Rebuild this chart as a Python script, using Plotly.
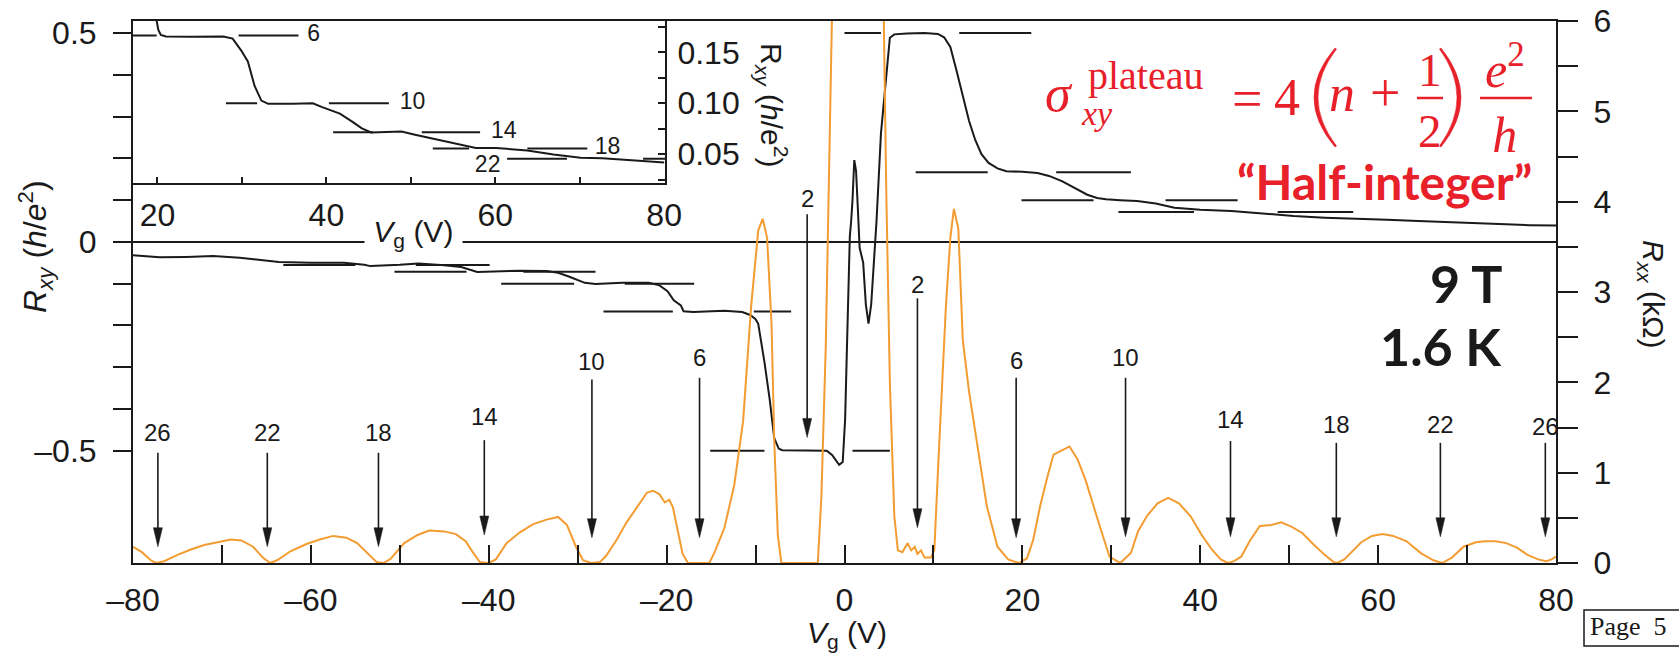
import plotly.graph_objects as go

# ---------------- data ----------------
# Longitudinal resistance R_xx (kOhm) vs gate voltage Vg (V)
VG_RXX = [-80, -79, -78, -77.4, -76.5, -75, -73.5, -72, -70.5, -69, -67.8, -66.5, -65.4, -64.6, -63.8,
          -62.3, -60.5, -59, -57.5, -56, -54.8, -53.6, -52.6, -51.8, -51, -49.5, -48, -46.7, -45,
          -43.7, -42.6, -41.8, -41, -40, -39.2, -38, -36.5, -35, -33.5, -32.2, -31.2, -30.2, -29.4,
          -28.5, -27.5, -26.8, -25.6, -24.5, -23.3, -22.2, -21.5, -20.8, -20.2, -19.7, -19.3, -18.8,
          -18.2, -17.6, -15.2, -14.6, -13.5, -12.4, -11.4, -10.5, -9.7, -9.2, -8.7, -8.2, -7.9, -7.5,
          -7.1, -3.0, -2.6, -2.1, -1.7, -1.4, -1.0, 0, 2, 3.5, 4.3, 4.7, 5.1, 5.6, 6.0, 6.5, 7.1, 7.5,
          7.9, 8.2, 8.6, 9.0, 9.7, 10.1, 10.5, 11.0, 11.4, 11.9, 12.3, 12.8, 13.3, 14.0, 14.8, 16.0,
          17.2, 18.4, 19.6, 20.5, 21.2, 22.0, 22.8, 23.5, 24.5, 25.3, 26.2, 27.1, 28.6, 29.8, 31.0,
          32.2, 33.0, 34.0, 35.2, 36.4, 37.6, 38.9, 40.1, 41.3, 42.3, 43.1, 43.8, 44.6, 45.6, 46.7,
          48.0, 49.1, 50.3, 51.5, 52.8, 54.0, 55.0, 55.4, 56.2, 56.9, 58.1, 59.3, 60.5, 61.7, 63.2,
          64.8, 66.2, 67.2, 68.3, 69.6, 71.0, 72.0, 73.2, 74.4, 75.6, 76.8, 78.0, 78.9, 79.5, 80]
RXX_KOHM = [0.18, 0.12, 0.03, 0.0, 0.02, 0.09, 0.15, 0.20, 0.23, 0.26, 0.25, 0.18, 0.06, 0.0, 0.03,
            0.13, 0.21, 0.26, 0.30, 0.28, 0.22, 0.10, 0.01, 0.0, 0.05, 0.22, 0.31, 0.36, 0.35,
            0.32, 0.24, 0.12, 0.01, 0.0, 0.04, 0.22, 0.34, 0.43, 0.48, 0.51, 0.42, 0.18, 0.03,
            0.0, 0.01, 0.08, 0.26, 0.45, 0.62, 0.78, 0.80, 0.76, 0.67, 0.70, 0.62, 0.40,
            0.10, 0.0, 0.0, 0.12, 0.39, 0.86, 1.57, 2.84, 3.68, 3.81, 3.60, 2.63, 1.36, 0.31,
            0.0, 0.0, 0.73, 2.42, 4.5, 6.1, 7.5, 9.0, 9.0, 8.0, 6.8, 4.1, 2.0, 0.52, 0.14, 0.12, 0.22, 0.14,
            0.18, 0.10, 0.14, 0.06, 0.06, 0.14, 1.0, 2.0, 2.84, 3.6, 3.92, 3.7, 2.47, 1.9, 1.37, 0.63,
            0.18, 0.04, 0.0, 0.05, 0.25, 0.63, 0.95, 1.20, 1.25, 1.29, 1.15, 0.92, 0.44, 0.07, 0.0,
            0.11, 0.35, 0.52, 0.66, 0.72, 0.66, 0.52, 0.32, 0.15, 0.04, 0.0, 0.02, 0.07, 0.25, 0.41,
            0.42, 0.45, 0.40, 0.33, 0.20, 0.09, 0.01, 0.0, 0.04, 0.11, 0.23, 0.30, 0.32, 0.30, 0.24,
            0.11, 0.03, 0.0, 0.06, 0.18, 0.23, 0.24, 0.24, 0.22, 0.17, 0.09, 0.04, 0.02, 0.04, 0.07]

# Hall resistance R_xy (h/e^2) vs gate voltage Vg (V)
VG_RXY = [-80, -77, -74, -71, -68, -66, -63.6, -60, -56.3, -54, -53.3, -50, -47.9, -45, -43.1, -41.3,
          -39, -36.5, -33.5, -32.2, -31, -30.4, -29.2, -28, -25, -22, -20.8, -19.9, -19.2, -18.4, -18.1,
          -17, -15.5, -13.5, -11.5, -10.6, -10, -9.7, -9.0, -8.4, -7.9, -7.4, -7.0, -4, -2, -1.4, -0.94,
          -0.6, -0.2, 0.07, 0.4, 0.6, 0.75, 0.9, 1.1, 1.3, 1.5, 1.7, 2.1, 2.4, 2.7, 3.0, 3.3, 3.6, 4.1,
          4.7, 5.1, 5.6, 7, 9, 10.5, 11.2, 11.9, 12.6, 13.3, 14.0, 14.7, 15.4, 16.2, 17.2, 18.2, 20,
          21.7, 23, 24.5, 26, 27.3, 28.4, 29.4, 31, 32.9, 35, 37.1, 40, 43.5, 47, 50.5, 54, 57.5, 61,
          64.5, 68, 73, 77, 80]
RXY_H_E2 = [-0.032, -0.037, -0.036, -0.034, -0.038, -0.042, -0.048, -0.050, -0.050, -0.055, -0.058,
            -0.055, -0.052, -0.056, -0.060, -0.072, -0.071, -0.069, -0.070, -0.074, -0.083, -0.088,
            -0.098, -0.101, -0.098, -0.098, -0.104, -0.118, -0.140, -0.152, -0.166, -0.168, -0.167,
            -0.165, -0.168, -0.175, -0.185, -0.196, -0.288, -0.379, -0.47, -0.495, -0.499, -0.499,
            -0.500, -0.510, -0.525, -0.534, -0.527, -0.425, -0.15, 0.014, 0.05, 0.10, 0.196, 0.17,
            0.08, -0.014, -0.05, -0.15, -0.196, -0.15, -0.05, 0.05, 0.26, 0.397, 0.489, 0.497, 0.499,
            0.500, 0.498, 0.49, 0.467, 0.41, 0.348, 0.29, 0.244, 0.21, 0.189, 0.176, 0.169, 0.168,
            0.165, 0.158, 0.145, 0.127, 0.113, 0.105, 0.102, 0.100, 0.098, 0.092, 0.082, 0.077,
            0.074, 0.068, 0.062, 0.058, 0.056, 0.053, 0.050, 0.047, 0.042, 0.040, 0.039]

# Quantised plateau guides R_xy = 1/nu (h/e^2), each drawn as two short segments
PLATEAU_NU = [-18, -18, -14, -14, -10, -10, -6, -6, -2, -2, 2, 2, 6, 6, 10, 10, 14, 14]
PLATEAU_V_START = [-63.1, -48.2, -50.6, -36.1, -38.6, -24.7, -27.1, -10.2, -15.1, 0.9,
                   0.0, 12.9, 8.0, 23.8, 19.9, 36.1, 30.8, 48.7]
PLATEAU_V_END = [-55.0, -39.9, -42.5, -28.0, -30.4, -16.9, -19.3, -6.0, -9.0, 5.1,
                 4.1, 21.0, 16.1, 32.2, 28.0, 44.2, 39.3, 57.2]

# Inset: R_xy (h/e^2) for Vg = 20..80 V
INSET_VG = [19.7, 19.9, 20.1, 20.4, 21, 24, 27.8, 28.9, 29.9, 30.7, 31.5, 32.3, 33.1, 36, 38.4, 39.5,
            40.5, 41.6, 43.1, 44.2, 45.3, 47, 48.9, 50.5, 53.2, 55.8, 57.7, 60.1, 63.8, 66.9, 70.1,
            72.7, 76.4, 80]
INSET_RXY = [0.19, 0.182, 0.172, 0.167, 0.1655, 0.1652, 0.1655, 0.1635, 0.152, 0.141, 0.117, 0.1026,
             0.0994, 0.0995, 0.100, 0.0962, 0.093, 0.0898, 0.0817, 0.0753, 0.0712, 0.0718, 0.0721,
             0.069, 0.064, 0.059, 0.0561, 0.056, 0.0535, 0.0497, 0.0465, 0.046, 0.044, 0.0417]
INSET_PLATEAU_NU = [6, 6, 10, 10, 14, 14, 18, 18, 22, 22]
INSET_PLATEAU_V_START = [17.1, 29.6, 28.1, 40.3, 40.8, 51.3, 52.6, 63.8, 61.4, 77.5]
INSET_PLATEAU_V_END = [19.9, 36.7, 31.8, 47.4, 45.5, 58.2, 56.9, 70.9, 68.5, 80.1]
INSET_LABELS = ["6", "10", "14", "18", "22"]
INSET_LABEL_V = [38.5, 50.2, 61.0, 73.3, 59.1]
INSET_LABEL_R = [1 / 6, 0.1, 1 / 14, 1 / 18, 0.0385]

# Filling-factor arrows: label, Vg, label height / arrow top / arrow tip (in R_xx kOhm units)
ARROW_NU = ["26", "22", "18", "14", "10", "6", "2", "2", "6", "10", "14", "18", "22", "26"]
ARROW_VG = [-77.2, -64.9, -52.4, -40.5, -28.4, -16.3, -4.2, 8.2, 19.3, 31.6, 43.4, 55.3, 67.0, 78.8]
ARROW_LABEL_Y = [1.44, 1.44, 1.44, 1.62, 2.23, 2.27, 4.03, 3.08, 2.24, 2.27, 1.59, 1.53, 1.53, 1.51]
ARROW_TOP = [1.22, 1.22, 1.22, 1.36, 2.03, 2.05, 3.86, 2.93, 2.05, 2.05, 1.35, 1.33, 1.33, 1.33]
ARROW_TIP = [0.18, 0.18, 0.18, 0.31, 0.28, 0.28, 1.39, 0.39, 0.28, 0.29, 0.29, 0.29, 0.29, 0.29]

# ---------------- layout constants ----------------
W, H = 1679, 655
ML, MR, MT, MB = 133, 123, 21, 92
PW, PH = W - ML - MR, H - MT - MB
X_RANGE = [-80, 80]
Y_RANGE = [-0.769, 0.529]
Y2_RANGE = [0, 6]
INSET_X_RANGE = [17.1, 80.1]
INSET_Y_RANGE = [0.0213, 0.1808]

INK = "#1a1a1a"
ORANGE = "#F39C32"
RED = "#E8202A"
SANS = "Liberation Sans, Arial, Helvetica, sans-serif"
SERIF = "Liberation Serif, Times New Roman, serif"
BOLD = "Lato, Liberation Sans, sans-serif"


def paper(x, y):
    return (x - ML) / PW, (H - MB - y) / PH


def dash(v, fmt):
    s = fmt.format(abs(v))
    return ("\u2013" + s) if v < 0 else s


fig = go.Figure()

# R_xx (orange, right axis)
fig.add_trace(go.Scatter(x=VG_RXX, y=RXX_KOHM, mode="lines", yaxis="y2", xaxis="x",
                         line=dict(color=ORANGE, width=2), hoverinfo="skip", showlegend=False))

# plateau guides
px_, py_ = [], []
for nu, a, b in zip(PLATEAU_NU, PLATEAU_V_START, PLATEAU_V_END):
    px_ += [a, b, None]
    py_ += [1 / nu, 1 / nu, None]
fig.add_trace(go.Scatter(x=px_, y=py_, mode="lines", xaxis="x", yaxis="y",
                         line=dict(color=INK, width=2), hoverinfo="skip", showlegend=False))

# R_xy (black, left axis)
fig.add_trace(go.Scatter(x=VG_RXY, y=RXY_H_E2, mode="lines", xaxis="x", yaxis="y",
                         line=dict(color=INK, width=2), hoverinfo="skip", showlegend=False))

# inset
ix, iy = [], []
for nu, a, b in zip(INSET_PLATEAU_NU, INSET_PLATEAU_V_START, INSET_PLATEAU_V_END):
    ix += [a, b, None]
    iy += [1 / nu, 1 / nu, None]
fig.add_trace(go.Scatter(x=ix, y=iy, mode="lines", xaxis="x3", yaxis="y3",
                         line=dict(color=INK, width=2), hoverinfo="skip", showlegend=False))
fig.add_trace(go.Scatter(x=INSET_VG, y=INSET_RXY, mode="lines", xaxis="x3", yaxis="y3",
                         line=dict(color=INK, width=2), hoverinfo="skip", showlegend=False))
fig.add_trace(go.Scatter(x=INSET_LABEL_V, y=INSET_LABEL_R, mode="text", text=INSET_LABELS,
                         xaxis="x3", yaxis="y3", textfont=dict(family=SANS, size=23, color=INK),
                         hoverinfo="skip", showlegend=False))

axis_common = dict(showgrid=False, showline=True, linewidth=2, linecolor=INK,
                   tickcolor=INK, tickwidth=2, tickfont=dict(family=SANS, size=32, color=INK),
                   tickmode="array")

xt = list(range(-80, 81, 10))
yt = [round(-0.5 + 0.1 * i, 1) for i in range(11)]
y2t = [0.5 * i for i in range(13)]
x3t = list(range(20, 81, 10))
y3t = [0.025 * i for i in range(1, 8)]

fig.update_layout(
    width=W, height=H, margin=dict(l=ML, r=MR, t=MT, b=MB, pad=0, autoexpand=False),
    paper_bgcolor="white", plot_bgcolor="white", showlegend=False,
    xaxis=dict(axis_common, domain=[0, 1], range=X_RANGE, anchor="y", ticks="inside", ticklen=18,
               tickvals=xt, ticktext=[dash(v, "{:d}") if v % 20 == 0 else "" for v in xt],
               mirror=True, zeroline=False, ticklabelstandoff=8),
    yaxis=dict(axis_common, domain=[0, 1], range=Y_RANGE, anchor="x", ticks="outside", ticklen=18,
               tickvals=yt,
               ticktext=[dash(v, "{:g}") if abs(v) in (0.5, 0.0) else "" for v in yt],
               zeroline=True, zerolinecolor=INK, zerolinewidth=1.5, ticklabelstandoff=10),
    yaxis2=dict(axis_common, range=Y2_RANGE, overlaying="y", side="right", anchor="x",
                ticks="outside", ticklen=20, tickvals=y2t,
                ticktext=[str(int(v)) if v == int(v) else "" for v in y2t],
                zeroline=False, ticklabelstandoff=9),
    xaxis3=dict(axis_common, domain=[0, (665 - ML) / PW], range=INSET_X_RANGE, anchor="y3",
                ticks="inside", ticklen=6, tickvals=x3t,
                ticktext=[str(v) if v % 20 == 0 else "" for v in x3t],
                zeroline=False, ticklabelstandoff=2),
    yaxis3=dict(axis_common, domain=[(H - MB - 183.3) / PH, 1], range=INSET_Y_RANGE, anchor="x3",
                side="right", ticks="inside", ticklen=7, tickvals=y3t,
                ticktext=["", "0.05", "", "0.10", "", "0.15", ""],
                zeroline=False, ticklabelstandoff=4),
)

# arrows: shaft + long narrow head, in data units of (x, y2)
PX_PER_V = PW / (X_RANGE[1] - X_RANGE[0])
PX_PER_K = PH / (Y2_RANGE[1] - Y2_RANGE[0])
HEAD_HALF_W = 4.5 / PX_PER_V
HEAD_LEN = 19 / PX_PER_K
for lab, v, ly, top, tip in zip(ARROW_NU, ARROW_VG, ARROW_LABEL_Y, ARROW_TOP, ARROW_TIP):
    fig.add_shape(type="line", xref="x", yref="y2", x0=v, x1=v, y0=top, y1=tip + HEAD_LEN * 0.8,
                  line=dict(color=INK, width=1.6))
    fig.add_shape(type="path", xref="x", yref="y2",
                  path=f"M {v - HEAD_HALF_W} {tip + HEAD_LEN} L {v + HEAD_HALF_W} {tip + HEAD_LEN} L {v} {tip} Z",
                  fillcolor=INK, line=dict(color=INK, width=0.5))
    fig.add_annotation(x=v, y=ly, xref="x", yref="y2", text=lab, showarrow=False,
                       font=dict(family=SANS, size=24, color=INK), xanchor="center", yanchor="middle")


def text_at(x, y, text, size, family=SANS, color=INK, xanchor="center", angle=0, bg=None, weight=None):
    a, b = paper(x, y)
    f = dict(family=family, size=size, color=color)
    if weight:
        f["weight"] = weight
    kw = dict(x=a, y=b, xref="paper", yref="paper", text=text, showarrow=False, font=f,
              xanchor=xanchor, yanchor="middle", textangle=angle, borderpad=0, align="center")
    if bg:
        kw["bgcolor"] = bg
    fig.add_annotation(**kw)


def paper_path(points, close=False):
    out = []
    for cmd, pts in points:
        coords = " ".join(f"{paper(x, y)[0]:.5f},{paper(x, y)[1]:.5f}" for x, y in pts)
        out.append(f"{cmd} {coords}")
    return " ".join(out) + (" Z" if close else "")


# axis titles
text_at(35, 247, "<i>R</i><sub><i>xy</i></sub> (<i>h</i>/<i>e</i><sup>2</sup>)", 32, angle=-90)
text_at(1652, 294, "<i>R</i><sub><i>xx</i></sub> (k\u03a9)", 30, angle=90)
text_at(772, 105, "R<sub><i>xy</i></sub> (<i>h</i>/e<sup>2</sup>)", 30, angle=90)
text_at(847, 634, "<i>V</i><sub>g</sub> (V)", 30)
text_at(413, 233, " <i>V</i><sub>g</sub> (V) ", 30, bg="white")

# red formula, built from pieces: (text, x centre, y centre, size)
FORMULA = [
    ("<i>\u03c3</i>", 1059, 94, 52),
    ("plateau", 1146, 75, 40),
    ("<i>xy</i>", 1097, 113, 34),
    ("=", 1247, 99, 54),
    ("4", 1287, 98, 52),
    ("<i>n</i>", 1342, 94, 52),
    ("+", 1385, 93, 54),
    ("1<br>2", 1430, 100, 47),
    ("<i>e</i><sup>2</sup><br><i>h</i>", 1505, 99, 50),
]
for t, x, y, s in FORMULA:
    text_at(x, y, t, s, family=SERIF, color=RED)
for x0, x1 in [(1417, 1443), (1480, 1532)]:
    a0, b0 = paper(x0, 98)
    a1, _ = paper(x1, 98)
    fig.add_shape(type="line", xref="paper", yref="paper", x0=a0, x1=a1, y0=b0, y1=b0,
                  line=dict(color=RED, width=2.5))
# big thin parentheses
fig.add_shape(type="path", xref="paper", yref="paper", fillcolor=RED, line=dict(color=RED, width=0.6),
              path=paper_path([("M", [(1335, 48)]), ("Q", [(1293, 97.5), (1335, 147)]),
                               ("L", [(1336.5, 146)]), ("Q", [(1299.5, 97.5), (1336.5, 49)])], close=True))
fig.add_shape(type="path", xref="paper", yref="paper", fillcolor=RED, line=dict(color=RED, width=0.6),
              path=paper_path([("M", [(1441, 48)]), ("Q", [(1481, 97.5), (1441, 147)]),
                               ("L", [(1439.5, 146)]), ("Q", [(1474.5, 97.5), (1439.5, 49)])], close=True))

text_at(1533, 181, "\u201cHalf-integer\u201d", 48, family=BOLD, color=RED, xanchor="right", weight="bold")
text_at(1503, 283, "9 T", 52, family=BOLD, color=INK, xanchor="right", weight="bold")
text_at(1503, 346, "1.6 K", 52, family=BOLD, color=INK, xanchor="right", weight="bold")

# page tag box
a0, b0 = paper(1584, 610)
a1, b1 = paper(1700, 646)
fig.add_shape(type="rect", xref="paper", yref="paper", x0=a0, x1=a1, y0=b1, y1=b0,
              line=dict(color=INK, width=1.5), fillcolor="white")
text_at(1589, 626, "Page\u00a0\u00a05", 26, family=SERIF, xanchor="left")

fig.write_html("out.html", config={"displayModeBar": False},
               post_script="document.body.style.margin='0';document.body.style.overflow='hidden';")
